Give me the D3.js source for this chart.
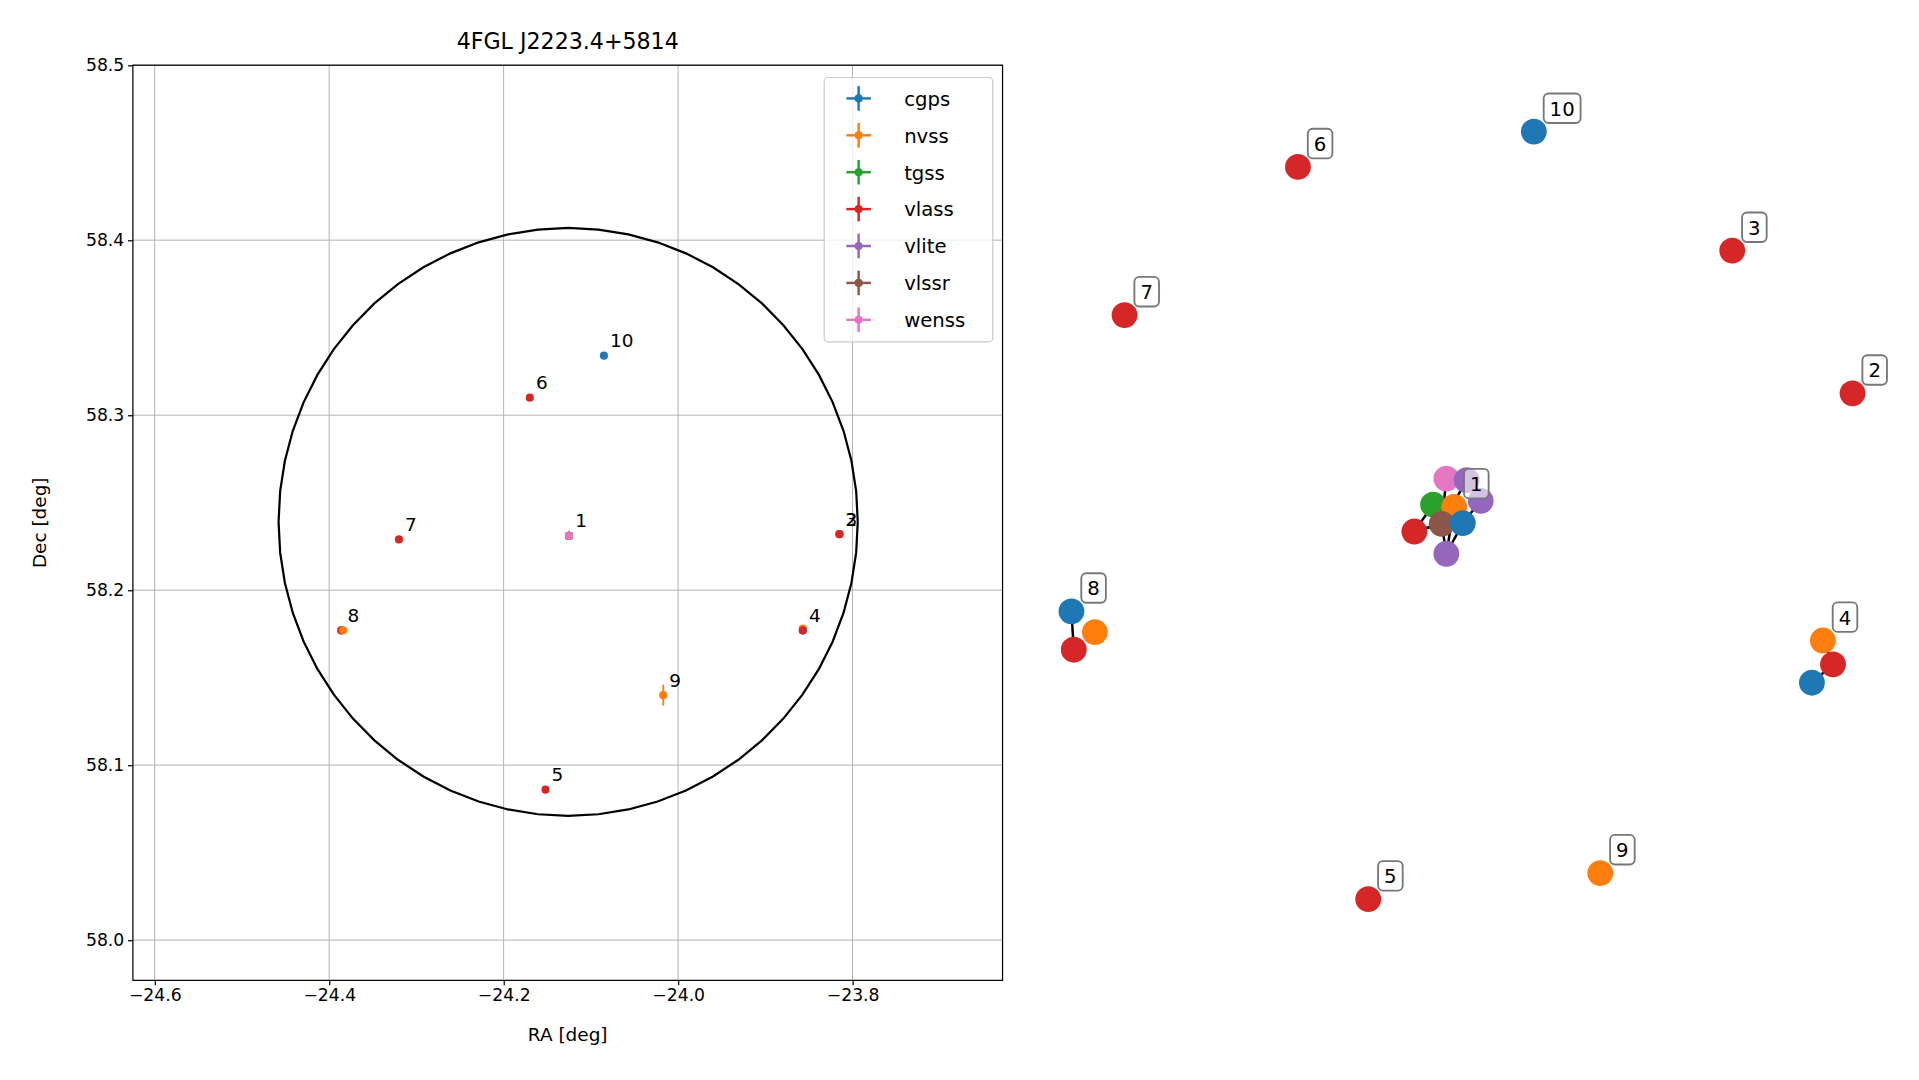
<!DOCTYPE html>
<html><head><meta charset="utf-8">
<script src="https://cdn.jsdelivr.net/npm/d3@7"></script>
<style>body{margin:0;background:#fff}text{font-family:"DejaVu Sans",sans-serif}</style>
</head><body>
<svg id="c" width="1919" height="1080" viewBox="0 0 1560 878"></svg>
<script>
const surveys = ["cgps","nvss","tgss","vlass","vlite","vlssr","wenss"];
const colors = ["#1f77b4","#ff7f0e","#2ca02c","#d62728","#9467bd","#8c564b","#e377c2"];
const xTicks = [-24.6,-24.4,-24.2,-24.0,-23.8];
const yTicks = [58.0,58.1,58.2,58.3,58.4,58.5];
const circle = {ra:-24.126, dec:58.239, rDec:0.168, rRa:0.332};
// sky sources: id, survey, ra, dec, dec error
const srcId  = [1,1,1,1,1,1,1,1,1,2,3,4,4,4,5,6,7,8,8,8,9,10];
const srcSv  = ["vlass","cgps","vlite","vlite","vlite","tgss","nvss","vlssr","wenss","vlass","vlass","cgps","nvss","vlass","vlass","vlass","vlass","cgps","vlass","nvss","nvss","cgps"];
const srcRa  = [-24.125,-24.125,-24.125,-24.125,-24.125,-24.125,-24.125,-24.125,-24.125,-23.815,-23.815,-23.857,-23.857,-23.857,-24.152,-24.170,-24.320,-24.386,-24.386,-24.384,-24.017,-24.085];
const srcDec = [58.231,58.231,58.231,58.231,58.231,58.231,58.231,58.231,58.231,58.232,58.232,58.177,58.178,58.177,58.086,58.310,58.229,58.177,58.177,58.177,58.140,58.334];
const srcErr = [0,0,0,0,0,0,0,0,0,0,0,0,0,0,0,0,0,0,0,0,0.006,0];
// network layout (layout units 0..1000 x 0..1000)
const nodeGrp = [10,6,3,7,2,1,1,1,1,1,1,1,1,1,8,8,8,4,4,4,5,9];
const nodeSv  = ["cgps","vlass","vlass","vlass","vlass","wenss","vlite","vlite","tgss","nvss","vlssr","cgps","vlass","vlite","cgps","nvss","vlass","nvss","vlass","cgps","vlass","nvss"];
const nodeX   = [592,290,846,68,1000,480,506,524,463,490,474,501,439,480,0,30,3,962,975,948,380,677];
const nodeY   = [0,46,155,239,341,452,454,481,486,489,511,510,521,550,625,652,675,663,694,718,1000,966];
const nodeEdges = [[5,10],[6,10],[7,11],[8,10],[9,10],[10,12],[10,13],[11,13],[12,10],[9,13],[8,12],[14,16],[17,18],[18,19]];
const labelNodes = [0,1,2,3,4,9,14,17,20,21];

const svg = d3.select("#c");
const m = {l:108,r:815,t:53,b:797};
const x = d3.scaleLinear().domain([-24.625,-23.628]).range([m.l,m.r]);
const y = d3.scaleLinear().domain([57.977,58.5]).range([m.b,m.t]);
const col = d3.scaleOrdinal().domain(surveys).range(colors);

const g = svg.append("g");
g.selectAll(".gx").data(xTicks).join("line").attr("x1",d=>x(d)).attr("x2",d=>x(d)).attr("y1",m.t).attr("y2",m.b).attr("stroke","#b0b0b0").attr("stroke-width",0.8);
g.selectAll(".gy").data(yTicks).join("line").attr("y1",d=>y(d)).attr("y2",d=>y(d)).attr("x1",m.l).attr("x2",m.r).attr("stroke","#b0b0b0").attr("stroke-width",0.8);
const ax = g.append("g").attr("transform",`translate(0,${m.b})`).call(d3.axisBottom(x).tickValues(xTicks).tickFormat(d=>d3.format(".1f")(d).replace("-","\u2212")).tickSize(4));
const ay = g.append("g").attr("transform",`translate(${m.l},0)`).call(d3.axisLeft(y).tickValues(yTicks).tickFormat(d3.format(".1f")).tickSize(4));
[ax,ay].forEach(a=>{a.select(".domain").remove();a.selectAll("text").attr("font-size",14).attr("fill","#000").style("font-family","DejaVu Sans");a.selectAll("line").attr("stroke","#000");});
g.append("rect").attr("x",m.l).attr("y",m.t).attr("width",m.r-m.l).attr("height",m.b-m.t).attr("fill","none").attr("stroke","#000").attr("stroke-width",1);
g.append("text").attr("x",(m.l+m.r)/2).attr("y",846).attr("text-anchor","middle").attr("font-size",15).text("RA [deg]");
g.append("text").attr("transform",`translate(37,${(m.t+m.b)/2}) rotate(-90)`).attr("text-anchor","middle").attr("font-size",15).text("Dec [deg]");
g.append("text").attr("x",(m.l+m.r)/2).attr("y",40).attr("text-anchor","middle").attr("font-size",18).text("4FGL J2223.4+5814");
const cpts = d3.range(0,61).map(i=>{const t=i/60*2*Math.PI;return [x(circle.ra+circle.rRa*Math.cos(t)), y(circle.dec+circle.rDec*Math.sin(t))];});
g.append("path").attr("d",d3.line()(cpts)).attr("fill","none").attr("stroke","#000").attr("stroke-width",1.8);
const src = srcId.map((id,i)=>({id,sv:srcSv[i],ra:srcRa[i],dec:srcDec[i],err:srcErr[i]}));
src.filter(d=>d.err>0).forEach(d=>{
  g.append("line").attr("x1",x(d.ra)).attr("x2",x(d.ra)).attr("y1",y(d.dec-d.err)).attr("y2",y(d.dec+d.err)).attr("stroke",col(d.sv)).attr("stroke-width",1.5);
});
g.selectAll(".s").data(src).join("circle").attr("cx",d=>x(d.ra)).attr("cy",d=>y(d.dec)).attr("r",3.3).attr("fill",d=>col(d.sv));
const seen = new Set();
src.forEach(d=>{ if(seen.has(d.id)) return; seen.add(d.id);
  g.append("text").attr("x",x(d.ra)+5).attr("y",y(d.dec)-7).attr("font-size",15).text(d.id);});
const lg = g.append("g");
lg.append("rect").attr("x",670).attr("y",63).attr("width",137).attr("height",215).attr("rx",3).attr("fill","#fff").attr("fill-opacity",0.8).attr("stroke","#ccc");
surveys.forEach((s,i)=>{
  const yy = 80+i*30;
  lg.append("line").attr("x1",688).attr("x2",708).attr("y1",yy).attr("y2",yy).attr("stroke",colors[i]).attr("stroke-width",2);
  lg.append("line").attr("x1",698).attr("x2",698).attr("y1",yy-10).attr("y2",yy+10).attr("stroke",colors[i]).attr("stroke-width",2);
  lg.append("circle").attr("cx",698).attr("cy",yy).attr("r",3.3).attr("fill",colors[i]);
  lg.append("text").attr("x",735).attr("y",yy+6).attr("font-size",16).text(s);
});
const nx = d3.scaleLinear().domain([0,1000]).range([871,1506]);
const ny = d3.scaleLinear().domain([0,1000]).range([107,731]);
const nodes = nodeGrp.map((gr,i)=>({gr,sv:nodeSv[i],x:nx(nodeX[i]),y:ny(nodeY[i])}));
const ng = svg.append("g");
nodeEdges.forEach(([i,j])=>ng.append("line").attr("x1",nodes[i].x).attr("y1",nodes[i].y).attr("x2",nodes[j].x).attr("y2",nodes[j].y).attr("stroke","#000").attr("stroke-width",2));
ng.selectAll(".n").data(nodes).join("circle").attr("cx",d=>d.x).attr("cy",d=>d.y).attr("r",10.5).attr("fill",d=>col(d.sv));
labelNodes.forEach(i=>{ const d=nodes[i];
  const t = String(d.gr); const w = t.length*10+10;
  ng.append("rect").attr("x",d.x+8).attr("y",d.y-31).attr("width",w).attr("height",24).attr("rx",4).attr("fill","#fff").attr("fill-opacity",0.6).attr("stroke","#777").attr("stroke-width",1.5);
  ng.append("text").attr("x",d.x+8+w/2).attr("y",d.y-13).attr("text-anchor","middle").attr("font-size",16).text(t);
});
</script></body></html>
